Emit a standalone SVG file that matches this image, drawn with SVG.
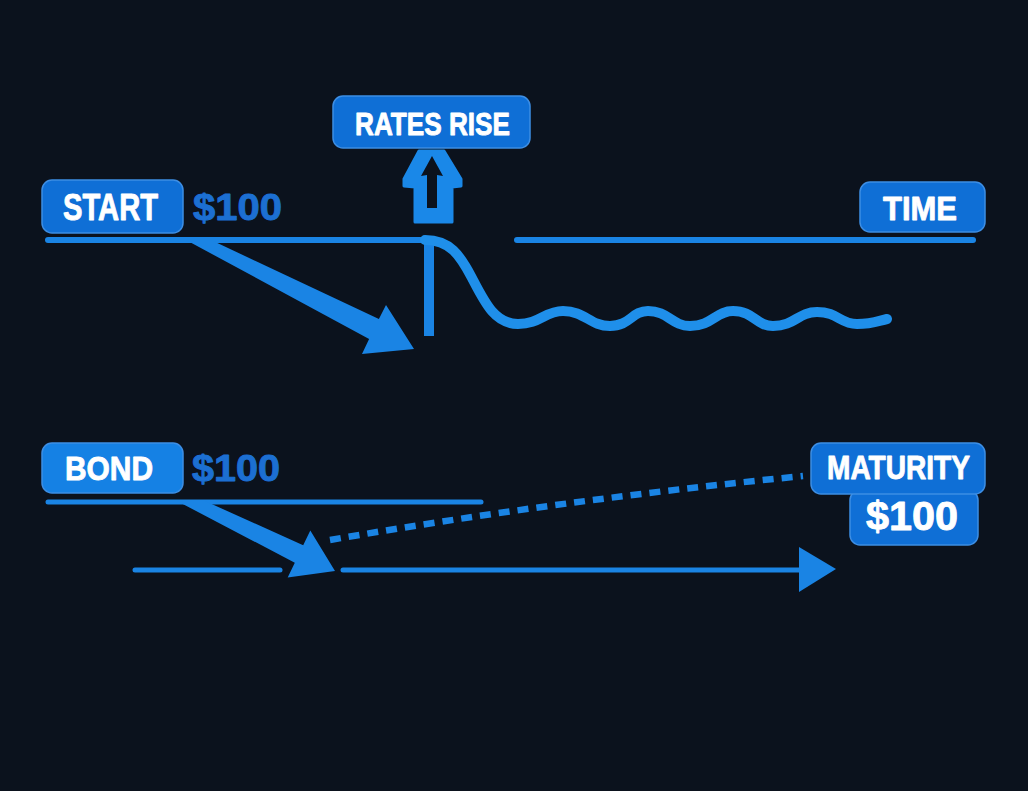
<svg xmlns="http://www.w3.org/2000/svg" width="1028" height="791" viewBox="0 0 1028 791">
<style>
.box{fill:#0f6fd6;stroke:#3d8ee4;stroke-width:1.5}
.lbl{font-family:"Liberation Sans",Arial,sans-serif;font-weight:bold;fill:#ffffff;stroke:#ffffff;stroke-width:0.9;stroke-linejoin:round}
.val{font-family:"Liberation Sans",Arial,sans-serif;font-weight:bold;fill:#1c6fd2;stroke:#1c6fd2;stroke-width:0.9;stroke-linejoin:round}
.ln{fill:none;stroke:#1a84e4;stroke-linecap:round}
.fill{fill:#1a84e4}
</style>
<rect width="1028" height="791" fill="#0b121d"/>
<g id="connectors">
  <path class="ln" d="M48,240 H426" stroke-width="6"/>
  <path class="ln" d="M517,240 H973" stroke-width="6"/>
  <line class="ln" x1="429" y1="243" x2="429" y2="336" stroke-width="10" style="stroke-linecap:butt"/>
  <path class="ln" style="stroke:#1f8fea" stroke-width="10" d="M425,240 C450,240 460,255 472,278 C485,303 495,324 518,324 C540,324 545,311 563,311 C585,311 590,326 610,326 C630,326 632,311 648,311 C668,311 672,326 690,326 C712,326 716,311 733,311 C754,311 756,326 773,326 C795,326 798,312 817,312 C838,312 840,324 857,324 C872,324 878,321 887,319"/>
  <polygon class="fill" points="186,240 211,240 378.9,319.1 386,305 414,349 362,354 369.1,338.9"/>
  <path class="ln" d="M48,502 H481" stroke-width="5"/>
  <path class="ln" d="M135,570 H280" stroke-width="5"/>
  <path class="ln" d="M343,570 H802" stroke-width="5"/>
  <polygon class="fill" points="799,547 836,569 799,592"/>
  <polygon class="fill" points="177,501 205,501 303.2,545.3 310.3,530.5 335,571 287.7,577.5 294.8,562.7"/>
  <path class="ln" d="M330,540 Q560,500 803,476" stroke-width="6.5" stroke-dasharray="11 8" style="stroke-linecap:butt"/>
</g>
<g id="rates-arrow">
  <polygon points="419,151 444,151 461,179 461,186 452,187 452,222 415,222 415,187 404,186 404,179" fill="#1a88e8" stroke="#1a88e8" stroke-width="3" stroke-linejoin="round"/>
  <polygon points="432,156 443,176 437,175 437,208 427,208 427,175 421,176" fill="#0b121d"/>
</g>
<g id="start">
  <rect class="box" x="42" y="180" width="141" height="53" rx="10"/>
  <text class="lbl" x="63" y="220" font-size="37" textLength="95" lengthAdjust="spacingAndGlyphs">START</text>
  <text class="val" x="193" y="220" font-size="37" textLength="89" lengthAdjust="spacingAndGlyphs">$100</text>
</g>
<g id="rates-rise">
  <rect class="box" x="333" y="96" width="197" height="52" rx="10"/>
  <text class="lbl" x="355" y="135" font-size="32" textLength="155" lengthAdjust="spacingAndGlyphs">RATES RISE</text>
</g>
<g id="time">
  <rect class="box" x="860" y="182" width="125" height="50" rx="10"/>
  <text class="lbl" x="883" y="220" font-size="34" textLength="74" lengthAdjust="spacingAndGlyphs">TIME</text>
</g>
<g id="bond">
  <rect class="box" x="42" y="443" width="141" height="50" rx="10" style="fill:#1581e4"/>
  <text class="lbl" x="65" y="480" font-size="34" textLength="88" lengthAdjust="spacingAndGlyphs">BOND</text>
  <text class="val" x="192" y="481" font-size="37" textLength="88" lengthAdjust="spacingAndGlyphs">$100</text>
</g>
<g id="maturity">
  <rect class="box" x="850" y="490" width="128" height="55" rx="10"/>
  <rect class="box" x="811" y="443" width="174" height="51" rx="10"/>
  <text class="lbl" x="827" y="479" font-size="33" textLength="143" lengthAdjust="spacingAndGlyphs">MATURITY</text>
  <text class="lbl" x="866" y="530" font-size="41" textLength="92" lengthAdjust="spacingAndGlyphs">$100</text>
</g>
</svg>
